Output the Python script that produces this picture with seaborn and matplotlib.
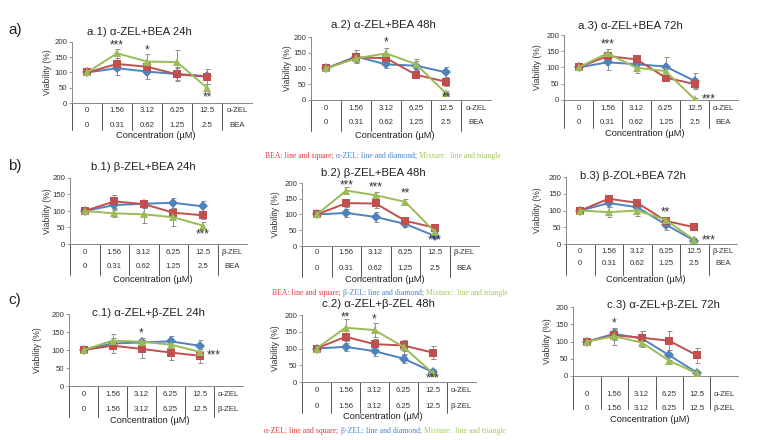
import matplotlib
matplotlib.use("Agg")
import matplotlib.pyplot as plt
import seaborn as sns
import pandas as pd
from matplotlib.transforms import blended_transform_factory

W, H = 761, 440
sns.set_style("white")
plt.rcParams['font.family'] = ['Liberation Sans', 'DejaVu Sans']

RED, BLUE, GREEN = "#C0504D", "#4F81BD", "#9BBB59"

# ---------------- category labels ----------------
zel_conc = ["0", "1.56", "3.12", "6.25", "12.5"]
bea_conc = ["0", "0.31", "0.62", "1.25", "2.5"]

# ---------------- data (viability %, mean and SD) ----------------
# a) alpha-ZEL + BEA
a1_bea = [100, 128, 119, 94, 86];   a1_bea_sd = [0, 20, 15, 20, 25]
a1_zel = [100, 114, 103, 95, 88];   a1_zel_sd = [0, 22, 25, 22, 25]
a1_mix = [100, 163, 136, 134, 50];  a1_mix_sd = [0, 15, 25, 40, 12]

a2_bea = [100, 135, 133, 80, 58];   a2_bea_sd = [0, 15, 12, 10, 15]
a2_zel = [100, 138, 113, 109, 88];  a2_zel_sd = [0, 20, 12, 15, 18]
a2_mix = [100, 132, 148, 114, 21];  a2_mix_sd = [0, 12, 18, 15, 8]

a3_bea = [100, 135, 125, 69, 49];   a3_bea_sd = [0, 10, 12, 8, 12]
a3_zel = [100, 116, 110, 103, 59];  a3_zel_sd = [0, 25, 10, 28, 25]
a3_mix = [100, 144, 99, 89, 3];     a3_mix_sd = [0, 12, 15, 10, 3]

# b) beta-ZEL + BEA
b1_bea = [100, 129, 121, 95, 87];   b1_bea_sd = [0, 20, 12, 15, 12]
b1_zel = [100, 118, 122, 125, 114]; b1_zel_sd = [0, 15, 12, 15, 15]
b1_mix = [100, 93, 90, 81, 56];     b1_mix_sd = [0, 12, 25, 25, 12]

b2_bea = [100, 136, 135, 80, 58];   b2_bea_sd = [0, 12, 15, 10, 12]
b2_zel = [100, 105, 92, 70, 32];    b2_zel_sd = [0, 12, 15, 10, 8]
b2_mix = [100, 176, 161, 140, 45];  b2_mix_sd = [0, 12, 12, 10, 15]

b3_bea = [100, 135, 123, 69, 50];   b3_bea_sd = [0, 12, 12, 8, 5]
b3_zel = [100, 122, 110, 58, 10];   b3_zel_sd = [0, 12, 12, 15, 5]
b3_mix = [100, 95, 100, 72, 12];    b3_mix_sd = [0, 15, 15, 8, 5]

# c) alpha-ZEL + beta-ZEL
c1_a = [100, 112, 103, 93, 84];     c1_a_sd = [0, 20, 25, 20, 20]
c1_b = [100, 118, 121, 124, 112];   c1_b_sd = [0, 15, 12, 15, 15]
c1_mix = [100, 126, 123, 115, 95];  c1_mix_sd = [0, 18, 10, 12, 12]

c2_a = [100, 135, 113, 109, 88];    c2_a_sd = [0, 12, 15, 15, 18]
c2_b = [100, 105, 92, 70, 30];      c2_b_sd = [0, 12, 15, 12, 8]
c2_mix = [100, 162, 155, 105, 27];  c2_mix_sd = [0, 25, 20, 20, 5]

c3_a = [100, 118, 111, 102, 60];    c3_a_sd = [0, 15, 20, 28, 22]
c3_b = [100, 122, 109, 60, 10];     c3_b_sd = [0, 15, 20, 15, 5]
c3_mix = [100, 115, 97, 44, 8];     c3_mix_sd = [0, 25, 12, 10, 5]

# significance marks: (category index, y, text, align)
a1_stars = [(1, 190, "***", "center"), (2, 172, "*", "center"), (4, 18, "**", "center")]
a2_stars = [(2, 182, "*", "center"), (4, 8, "**", "center")]
a3_stars = [(1, 170, "***", "center"), (4, 3, "***", "left")]
b1_stars = [(4, 30, "***", "center")]
b2_stars = [(1, 193, "***", "center"), (2, 186, "***", "center"), (3, 166, "**", "center"), (4, 17, "***", "center")]
b3_stars = [(3, 93, "**", "center"), (4, 12, "***", "left")]
c1_stars = [(2, 145, "*", "center"), (4, 86, "***", "left")]
c2_stars = [(1, 193, "**", "center"), (2, 186, "*", "center"), (4, 11, "***", "center")]
c3_stars = [(1, 152, "*", "center")]

fig = plt.figure(figsize=(W / 100, H / 100), dpi=100)
fig.patch.set_facecolor("white")


def fy(y):
    return 1 - y / H


def fx(x):
    return x / W


def panel(box, offs, title, tpos, ylab_x, series, row1, row2, stars):
    left, right, top, bottom = box
    r1, r2, le, conc = offs
    ax = fig.add_axes([fx(left), fy(bottom), (right - left) / W, (bottom - top) / H])
    names = [s[0] for s in series]
    rows = []
    for name, vals, sds, col, mk in series:
        for i, v in enumerate(vals):
            rows.append({"pos": i + 0.5, "v": v, "sd": sds[i], "series": name})
    df = pd.DataFrame(rows)
    for name, vals, sds, col, mk in series:
        d = df[df.series == name]
        ax.errorbar(d.pos, d.v, yerr=d.sd, fmt="none", ecolor="#8f8f8f",
                    elinewidth=0.7, capsize=1.8, capthick=0.7, zorder=1)
    sns.lineplot(data=df, x="pos", y="v", hue="series", style="series",
                 hue_order=names, style_order=names,
                 palette={s[0]: s[3] for s in series},
                 markers={s[0]: s[4] for s in series}, dashes=False,
                 markersize=5.2, markeredgewidth=0, linewidth=1.4,
                 legend=False, ax=ax, zorder=3)
    ax.set_xlim(0, 6)
    ax.set_ylim(0, 200)
    ax.set_yticks([0, 50, 100, 150, 200])
    ax.set_xticks([])
    ax.set_xlabel("")
    ax.set_ylabel("")
    ax.tick_params(axis="y", labelsize=5.6, length=2, width=0.6, color="#888888",
                   pad=1.5, labelcolor="#333333", left=True)
    for sp in ["top", "right"]:
        ax.spines[sp].set_visible(False)
    for sp in ["left", "bottom"]:
        ax.spines[sp].set_color("#888888")
        ax.spines[sp].set_linewidth(0.7)
    ax.patch.set_alpha(0)
    tr = blended_transform_factory(ax.transData, fig.transFigure)
    for i in range(6):
        ax.plot([i, i], [fy(bottom), fy(bottom + le)], transform=tr,
                color="#555555", lw=0.7, clip_on=False)
    for i in range(6):
        ax.text(i + 0.5, fy(bottom + r1), row1[i], transform=tr, ha="center",
                va="center", fontsize=5.6, color="#333333")
        ax.text(i + 0.5, fy(bottom + r2), row2[i], transform=tr, ha="center",
                va="center", fontsize=5.6, color="#333333")
    ax.text(2.8, fy(bottom + conc), "Concentration (µM)", transform=tr,
            ha="center", va="center", fontsize=6.7, color="#222222")
    fig.text(fx(tpos[0]), fy(tpos[1]), title, ha="center", va="center",
             fontsize=8.2, color="#222222")
    fig.text(fx(ylab_x), fy((top + bottom) / 2), "Viability (%)", rotation=90,
             ha="center", va="center", fontsize=6.2, color="#333333")
    for (i, y, t, al) in stars:
        x = i + 0.5 if al == "center" else i + 0.75
        ax.text(x, y, t, ha=al, va="center", fontsize=8.5, color="#333333",
                clip_on=False)
    return ax


zel_a_row = zel_conc + ["α-ZEL"]
zel_b_row = zel_conc + ["β-ZEL"]
bea_row = bea_conc + ["BEA"]

SQ, DI, TR = "s", "D", "^"

panel((72, 252, 42, 103), (7, 22, 27, 33), "a.1) α-ZEL+BEA 24h", (139, 32), 48,
      [("α-ZEL", a1_zel, a1_zel_sd, BLUE, DI), ("BEA", a1_bea, a1_bea_sd, RED, SQ),
       ("Mixture", a1_mix, a1_mix_sd, GREEN, TR)], zel_a_row, bea_row, a1_stars)
panel((311, 491, 37, 100), (8, 23, 31, 35), "a.2) α-ZEL+BEA 48h", (383, 25), 287,
      [("α-ZEL", a2_zel, a2_zel_sd, BLUE, DI), ("BEA", a2_bea, a2_bea_sd, RED, SQ),
       ("Mixture", a2_mix, a2_mix_sd, GREEN, TR)], zel_a_row, bea_row, a2_stars)
panel((564, 738, 35, 100), (8, 23, 28, 33), "a.3) α-ZEL+BEA 72h", (630, 26), 538,
      [("α-ZEL", a3_zel, a3_zel_sd, BLUE, DI), ("BEA", a3_bea, a3_bea_sd, RED, SQ),
       ("Mixture", a3_mix, a3_mix_sd, GREEN, TR)], zel_a_row, bea_row, a3_stars)

panel((70, 247, 178, 244), (8, 23, 31, 35), "b.1) β-ZEL+BEA 24h", (143, 167), 47,
      [("β-ZEL", b1_zel, b1_zel_sd, BLUE, DI), ("BEA", b1_bea, b1_bea_sd, RED, SQ),
       ("Mixture", b1_mix, b1_mix_sd, GREEN, TR)], zel_b_row, bea_row, b1_stars)
panel((302, 479, 183, 246), (7, 22, 31, 33), "b.2) β-ZEL+BEA 48h", (373, 173), 275,
      [("β-ZEL", b2_zel, b2_zel_sd, BLUE, DI), ("BEA", b2_bea, b2_bea_sd, RED, SQ),
       ("Mixture", b2_mix, b2_mix_sd, GREEN, TR)], zel_b_row, bea_row, b2_stars)
panel((566, 737, 177, 244), (7, 19, 31, 35), "b.3) β-ZOL+BEA 72h", (633, 176), 537,
      [("β-ZEL", b3_zel, b3_zel_sd, BLUE, DI), ("BEA", b3_bea, b3_bea_sd, RED, SQ),
       ("Mixture", b3_mix, b3_mix_sd, GREEN, TR)], zel_b_row, bea_row, b3_stars)

panel((69, 243, 314, 386), (8, 23, 31, 34), "c.1) α-ZEL+β-ZEL 24h", (148, 313), 38,
      [("β-ZEL", c1_b, c1_b_sd, BLUE, DI), ("α-ZEL", c1_a, c1_a_sd, RED, SQ),
       ("Mixture", c1_mix, c1_mix_sd, GREEN, TR)], zel_a_row, zel_b_row, c1_stars)
panel((302, 476, 315, 382), (8, 24, 31, 34), "c.2) α-ZEL+β-ZEL 48h", (378, 304), 275,
      [("β-ZEL", c2_b, c2_b_sd, BLUE, DI), ("α-ZEL", c2_a, c2_a_sd, RED, SQ),
       ("Mixture", c2_mix, c2_mix_sd, GREEN, TR)], zel_a_row, zel_b_row, c2_stars)
panel((573, 738, 307, 376), (18, 32, 33, 43), "c.3) α-ZEL+β-ZEL 72h", (663, 305), 548,
      [("β-ZEL", c3_b, c3_b_sd, BLUE, DI), ("α-ZEL", c3_a, c3_a_sd, RED, SQ),
       ("Mixture", c3_mix, c3_mix_sd, GREEN, TR)], zel_a_row, zel_b_row, c3_stars)

# row labels
for lab, y in [("a)", 30), ("b)", 166), ("c)", 300)]:
    fig.text(fx(8), fy(y), lab, fontsize=11, ha="left", va="center", color="#222222")

# colored legend sentences
LRED, LBLUE, LGREEN = "#E03A3E", "#4A86C8", "#A3C95C"
renderer = fig.canvas.get_renderer()


def legend_line(cx, y, parts):
    texts = []
    for s, c in parts:
        t = fig.text(0, fy(y), s, color=c, fontsize=5.6, family="Liberation Serif",
                     ha="left", va="center")
        texts.append(t)
    widths = [t.get_window_extent(renderer).width for t in texts]
    total = sum(widths)
    x = cx - total / 2
    for t, w in zip(texts, widths):
        t.set_x(fx(x))
        x += w


legend_line(383, 156, [("BEA: line and square; ", LRED), ("α-ZEL: line and diamond; ", LBLUE),
                       ("Mixture:  line and triangle", LGREEN)])
legend_line(390, 293, [("BEA: line and square; ", LRED), ("β-ZEL: line and diamond; ", LBLUE),
                       ("Mixture:  line and triangle", LGREEN)])
legend_line(385, 431, [("α-ZEL: line and square; ", LRED), ("β-ZEL: line and diamond; ", LBLUE),
                       ("Mixture:  line and triangle", LGREEN)])

fig.savefig("out.png", dpi=100)
